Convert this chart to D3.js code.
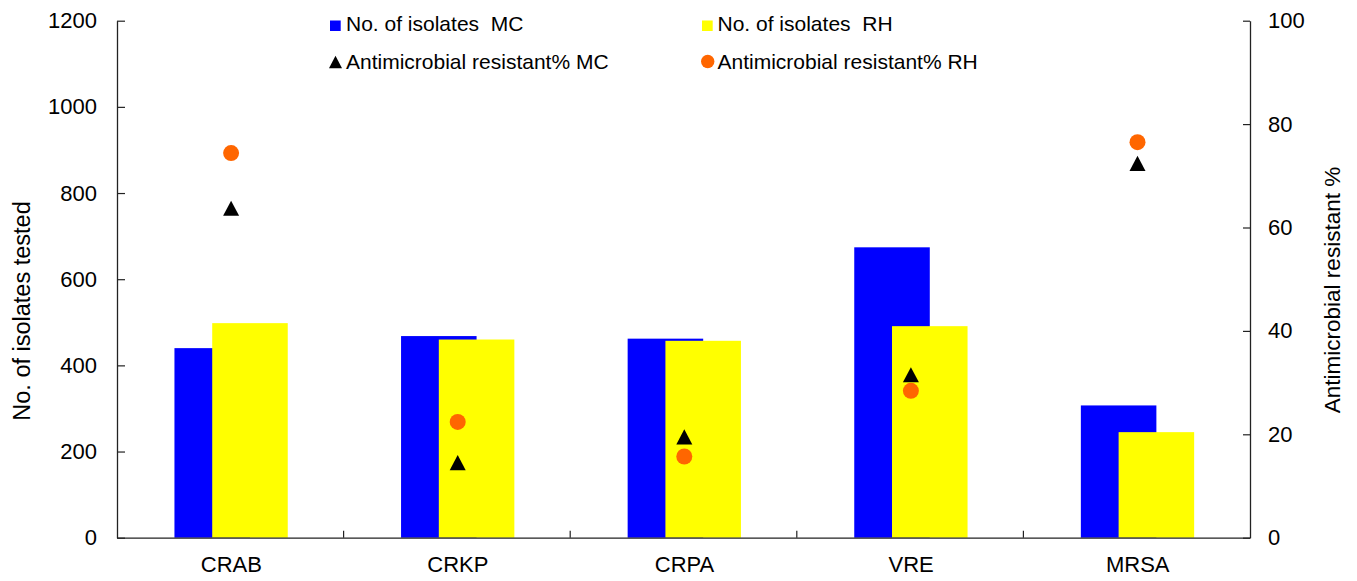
<!DOCTYPE html>
<html><head><meta charset="utf-8">
<script src="https://cdn.jsdelivr.net/npm/d3@7"></script>
<style>
html,body{margin:0;padding:0;background:#fff;}
text{font-family:"Liberation Sans",Arial,sans-serif;fill:#000;}
</style></head>
<body><svg id="c" width="1357" height="581"></svg>
<script>
const categories = ["CRAB","CRKP","CRPA","VRE","MRSA"];
const isolatesMC = [440, 468, 462, 674, 307];
const isolatesRH = [498, 460, 457, 491, 245];
const resistMC = [63.7, 14.5, 19.5, 31.5, 72.4];
const resistRH = [74.4, 22.4, 15.7, 28.4, 76.5];
const leftTicks = [0,200,400,600,800,1000,1200];
const rightTicks = [0,20,40,60,80,100];

const svg = d3.select("#c");
const L = 117, R = 1250, T = 20.7, B = 537.7;
const FS = 22, FL = 21, FT = 23.5;
const x = d3.scaleBand().domain(categories).range([L, R]).paddingInner(0).paddingOuter(0);
const yL = d3.scaleLinear().domain([0,1200]).range([B, T]);
const yR = d3.scaleLinear().domain([0,100]).range([B, T]);
const W = x.bandwidth()/3;
const cx = c => x(c) + x.bandwidth()/2 + 0.8;

// bars
svg.append("g").selectAll("rect").data(categories).join("rect")
  .attr("x", (c)=>cx(c) - 0.75*W).attr("width", W)
  .attr("y", (c,i)=>yL(isolatesMC[i])).attr("height", (c,i)=>B - yL(isolatesMC[i]))
  .attr("fill", "#0000ff");
svg.append("g").selectAll("rect").data(categories).join("rect")
  .attr("x", (c)=>cx(c) - 0.25*W).attr("width", W)
  .attr("y", (c,i)=>yL(isolatesRH[i])).attr("height", (c,i)=>B - yL(isolatesRH[i]))
  .attr("fill", "#ffff00");

// axes
const axL = svg.append("g").attr("transform", `translate(${L},0)`)
  .call(d3.axisLeft(yL).tickValues(leftTicks).tickFormat(d3.format("d")).tickSizeInner(-8).tickSizeOuter(0).tickPadding(20));
const axR = svg.append("g").attr("transform", `translate(${R},0)`)
  .call(d3.axisRight(yR).tickValues(rightTicks).tickFormat(d3.format("d")).tickSizeInner(-7).tickSizeOuter(0).tickPadding(18));
const axB = svg.append("g").attr("transform", `translate(0,${B})`)
  .call(d3.axisBottom(x).tickSize(0).tickPadding(19));
[axL, axR, axB].forEach(a=>{
  a.selectAll("text").attr("font-size", FS).attr("font-family", '"Liberation Sans",Arial,sans-serif');
  a.select(".domain").attr("stroke", "#222").attr("stroke-width", 1.3);
  a.selectAll(".tick line").attr("stroke", "#222").attr("stroke-width", 1.2);
});
axB.selectAll("text").attr("dx", 1);
// category boundary ticks
svg.append("g").selectAll("line").data(categories.slice(1)).join("line")
  .attr("x1", c=>x(c)).attr("x2", c=>x(c)).attr("y1", B).attr("y2", B-7)
  .attr("stroke", "#222").attr("stroke-width", 1.2);

// markers
const tri = "M0,-7.7L8,7.5L-8,7.5Z";
svg.append("g").selectAll("path").data(categories).join("path")
  .attr("d", tri).attr("transform", (c,i)=>`translate(${cx(c)},${yR(resistMC[i])})`)
  .attr("fill", "#000");
svg.append("g").selectAll("circle").data(categories).join("circle")
  .attr("cx", c=>cx(c)).attr("cy", (c,i)=>yR(resistRH[i])).attr("r", 8)
  .attr("fill", "#ff6600");

// axis titles
svg.append("text").attr("transform", "translate(30,311) rotate(-90)")
  .attr("text-anchor", "middle").attr("font-size", FT).text("No. of isolates tested");
svg.append("text").attr("transform", "translate(1340,290) rotate(-90)")
  .attr("text-anchor", "middle").attr("font-size", 22.5).text("Antimicrobial resistant %");

// legend
const leg = svg.append("g");
leg.append("rect").attr("x", 330).attr("y", 20.5).attr("width", 10.7).attr("height", 10.5).attr("fill", "#0000ff");
leg.append("text").attr("x", 346).attr("y", 31).attr("font-size", FL).attr("xml:space","preserve").text("No. of isolates  MC");
leg.append("rect").attr("x", 702).attr("y", 20.5).attr("width", 10.7).attr("height", 10.5).attr("fill", "#ffff00");
leg.append("text").attr("x", 717.5).attr("y", 31).attr("font-size", FL).attr("xml:space","preserve").text("No. of isolates  RH");
leg.append("path").attr("d", "M0,-6.3L6.5,6.2L-6.5,6.2Z").attr("transform", "translate(335.5,62)").attr("fill", "#000");
leg.append("text").attr("x", 346).attr("y", 68.5).attr("font-size", FL).text("Antimicrobial resistant% MC");
leg.append("circle").attr("cx", 707.7).attr("cy", 61.5).attr("r", 6.7).attr("fill", "#ff6600");
leg.append("text").attr("x", 717.5).attr("y", 68.5).attr("font-size", FL).text("Antimicrobial resistant% RH");
</script></body></html>
